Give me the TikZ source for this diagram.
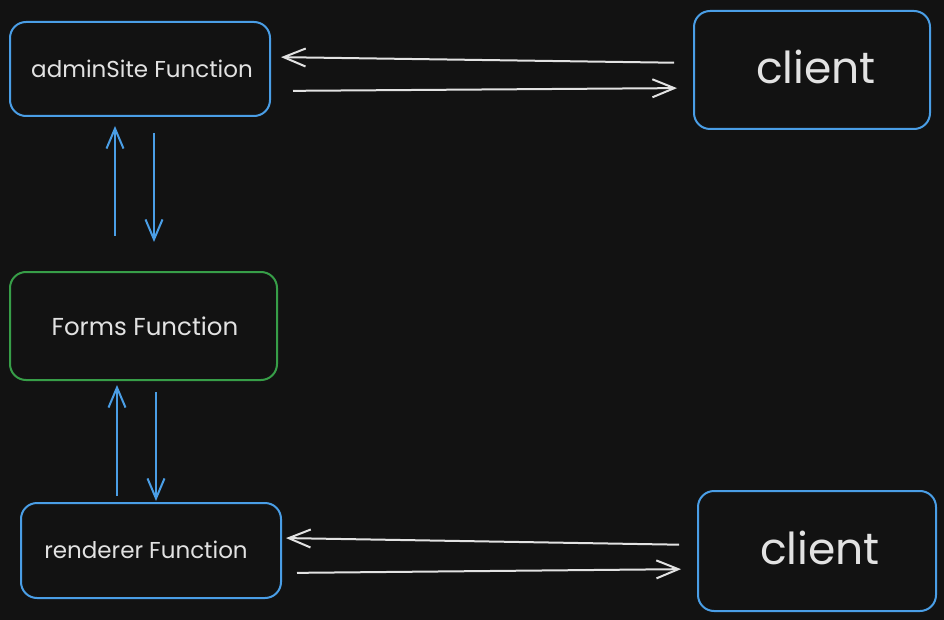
\documentclass[tikz,border=0pt]{standalone}
\usepackage{fontspec}
\setmainfont{Poppins}
\usepackage{xcolor}
\usetikzlibrary{arrows.meta}
\definecolor{bg}{HTML}{121212}
\definecolor{edgeblue}{HTML}{4A9EE6}
\definecolor{edgegreen}{HTML}{379E48}
\definecolor{ink}{HTML}{E2E2E2}

\begin{document}
\begin{tikzpicture}[x=1pt, y=-1pt,
    box/.style={draw=edgeblue, line width=2pt, rounded corners=16pt, inner sep=0pt},
    blueline/.style={draw=edgeblue, line width=2pt, -{Straight Barb[length=20pt,width=17pt,line width=2pt]}},
    whiteline/.style={draw=ink, line width=2pt, -{Straight Barb[length=22pt,width=18pt,line width=2pt]}}]
    \fill[bg] (0,0) rectangle (944,620);
    \useasboundingbox (0,0) rectangle (944,620);

    % boxes
    \node[box, minimum width=260pt, minimum height=94pt] (admin) at (140,69) {};
    \node[box, minimum width=236pt, minimum height=118pt] (clienttop) at (812,70) {};
    \node[box, draw=edgegreen, minimum width=267pt, minimum height=108pt] (forms) at (143.5,326) {};
    \node[box, minimum width=260pt, minimum height=95pt] (renderer) at (151,550.5) {};
    \node[box, minimum width=238pt, minimum height=120pt] (clientbot) at (817,551) {};

    % labels
    \node[text=ink, font=\fontsize{23}{25}\selectfont] (adminlbl) at (142,69) {adminSite Function};
    \node[text=ink, font=\fontsize{44}{48}\selectfont] (clienttoplbl) at (816,67) {client};
    \node[text=ink, font=\fontsize{24.5}{27}\selectfont] (formslbl) at (145,326) {Forms Function};
    \node[text=ink, font=\fontsize{23}{25}\selectfont] (rendererlbl) at (146,550) {renderer Function};
    \node[text=ink, font=\fontsize{44}{48}\selectfont] (clientbotlbl) at (820,548) {client};

    % top row
    \draw[whiteline, shorten <=19pt, shorten >=10pt] ([yshift=7pt]clienttop.west) -- ([yshift=12pt]admin.east);
    \draw[whiteline, shorten <=22pt, shorten >=16pt] ([yshift=-22pt]admin.east) -- ([yshift=-18pt]clienttop.west);

    % column
    \draw[blueline, shorten <=35pt, shorten >=9pt] ([xshift=-28.5pt]forms.north) -- ([xshift=-25pt]admin.south);
    \draw[blueline, shorten <=16pt, shorten >=29pt] ([xshift=14pt]admin.south) -- ([xshift=10.5pt]forms.north);
    \draw[blueline, shorten <=6pt, shorten >=4pt] ([xshift=-34pt]renderer.north) -- ([xshift=-26.5pt]forms.south);
    \draw[blueline, shorten <=11pt, shorten >=1pt] ([xshift=12.5pt]forms.south) -- ([xshift=5pt]renderer.north);

    % bottom row
    \draw[whiteline, shorten <=18pt, shorten >=4pt] ([yshift=6pt]clientbot.west) -- ([yshift=12.5pt]renderer.east);
    \draw[whiteline, shorten <=15pt, shorten >=16pt] ([yshift=-22.5pt]renderer.east) -- ([yshift=-18pt]clientbot.west);
  \end{tikzpicture}
\end{document}
